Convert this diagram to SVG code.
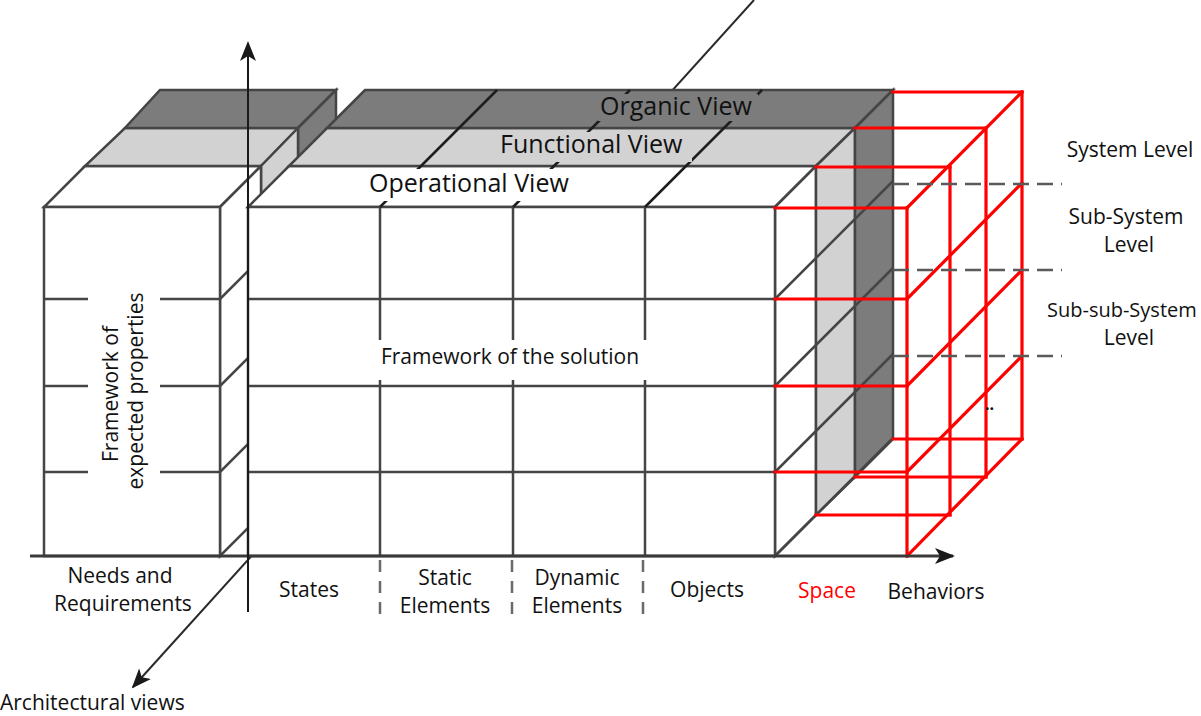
<svg xmlns="http://www.w3.org/2000/svg" width="1201" height="716" viewBox="0 0 1201 716">
<style>
 .e{stroke:#454545;stroke-width:2.5;stroke-linejoin:miter}
 .w{fill:#ffffff}
 .lg{fill:#d2d2d2}
 .dg{fill:#7c7c7c}
 .ln{stroke:#454545;stroke-width:2.5;fill:none}
 .cd{stroke:#1e1e1e;stroke-width:2.5;fill:none}
 .r{stroke:#ff0000;stroke-width:3.2;fill:none;stroke-linecap:square}
 .dash{stroke:#5a5a5a;stroke-width:2.5;stroke-dasharray:16 8;fill:none}
 .sep{stroke:#6a6a6a;stroke-width:2.5;stroke-dasharray:12 9;fill:none}
 text{font-family:"Open Sans","Liberation Sans",sans-serif;fill:#111111}
 .t{font-size:21px}
 .big{font-size:25px}
 .m{text-anchor:middle}
</style>
<defs>
 <marker id="ah" viewBox="0 0 20 16" refX="18" refY="8" markerWidth="20" markerHeight="16" markerUnits="userSpaceOnUse" orient="auto">
  <path d="M0,0 L20,8 L0,16 L5,8 Z" fill="#1a1a1a"/>
 </marker>
</defs>

<g id="connectors">
 <line id="depth-axis" x1="754" y1="0" x2="133" y2="687" stroke="#2a2a2a" stroke-width="2" marker-end="url(#ah)"/>
</g>

<g id="needs-block">
 <polygon class="e w" points="44,207 220,207 261,166 85,166"/>
 <polygon class="e lg" points="85,166 261,166 298,128 125,128"/>
 <polygon class="e dg" points="125,128 298,128 336,90 160,90"/>
 <polygon class="e dg" points="298,128 336,90 336,439 298,477"/>
 <polygon class="e lg" points="261,166 298,128 298,477 261,515"/>
 <polygon class="e w" points="220,207 261,166 261,515 220,556"/>
 <path class="ln" d="M220,299 L261,258 M220,386 L261,345 M220,472 L261,431"/>
 <rect class="e w" x="44" y="207" width="176" height="349"/>
 <path class="ln" d="M44,299 H88 M160,299 H220 M44,386 H88 M160,386 H220 M44,472 H88 M160,472 H220"/>
 <text class="t m" transform="translate(118,394) rotate(-90)">Framework of</text>
 <text class="t m" transform="translate(143,391) rotate(-90)">expected properties</text>
</g>

<g id="solution-block">
 <polygon class="e w" points="248,207 775,207 816,166 289,166"/>
 <polygon class="e lg" points="289,166 816,166 855,128 327,128"/>
 <polygon class="e dg" points="327,128 855,128 893,90 365,90"/>
 <polygon class="e w" points="775,207 816,166 816,515 775,556"/>
 <polygon class="e lg" points="816,166 855,128 855,477 816,515"/>
 <polygon class="e dg" points="855,128 893,90 893,439 855,477"/>
 <path class="ln" d="M775,299 L893,181 M775,386 L893,268 M775,472 L893,354 M775,556 L893,438"/>
 <rect class="e w" x="248" y="207" width="527" height="349"/>
 <path class="ln" d="M248,299 H775 M248,386 H775 M248,472 H775 M380,207 V556 M513,207 V556 M645,207 V556"/>
 <path class="cd" d="M380,207 L497,90 M513,207 L630,90 M645,207 L762,90"/>
 <rect x="598" y="94" width="160" height="27" class="dg"/>
 <rect x="498" y="132" width="194" height="30" class="lg"/>
 <rect x="367" y="169" width="210" height="32" class="w"/>
 <rect x="376" y="340" width="274" height="40" class="w"/>
 <text class="big" x="600" y="115">Organic View</text>
 <text class="big" x="500" y="153">Functional View</text>
 <text class="big" x="369" y="192">Operational View</text>
 <text class="t m" x="510" y="364">Framework of the solution</text>
</g>

<g id="space-cube">
 <path class="r" d="M775,208 H907 M816,167 H950 M855,128 H986 M893,92 H1022"/>
 <path class="r" d="M775,299 H907 M775,386 H907 M775,472 H907"/>
 <path class="r" d="M816,515 H950 M855,477 H986 M893,439 H1022"/>
 <path class="r" d="M907,208 V556 M950,167 V515 M986,128 V477 M1022,92 V439"/>
 <path class="r" d="M907,208 L1022,92 M907,299 L1022,183 M907,386 L1022,270 M907,472 L1022,356 M907,556 L1022,439"/>
 <text x="985" y="410" style="font-size:16px;font-weight:bold">..</text>
</g>

<g id="levels">
 <path class="dash" d="M893,184 H1062 M893,270 H1062 M893,356 H1062"/>
 <text class="t m" x="1130" y="157">System Level</text>
 <text class="t m" x="1126" y="224">Sub-System</text>
 <text class="t m" x="1129" y="252">Level</text>
 <text x="1047" y="317" style="font-size:20px">Sub-sub-System</text>
 <text class="t m" x="1129" y="345">Level</text>
</g>

<g id="axes">
 <line x1="30" y1="556" x2="953" y2="556" stroke="#3a3a3a" stroke-width="3" marker-end="url(#ah)"/>
 <line x1="248" y1="612" x2="248" y2="43" stroke="#1a1a1a" stroke-width="2" marker-end="url(#ah)"/>
 <path class="sep" d="M380,560 V622 M512,560 V622 M643,560 V622"/>
</g>

<g id="categories">
 <text class="t m" x="120" y="583">Needs and</text>
 <text class="t m" x="123" y="611">Requirements</text>
 <text class="t m" x="309" y="597">States</text>
 <text class="t m" x="445" y="585">Static</text>
 <text class="t m" x="445" y="613">Elements</text>
 <text class="t m" x="577" y="585">Dynamic</text>
 <text class="t m" x="577" y="613">Elements</text>
 <text class="t m" x="707" y="597">Objects</text>
 <text class="t m" x="827" y="598" style="fill:#ff0000">Space</text>
 <text class="t m" x="936" y="599">Behaviors</text>
 <text class="t" x="0" y="710">Architectural views</text>
</g>
</svg>
